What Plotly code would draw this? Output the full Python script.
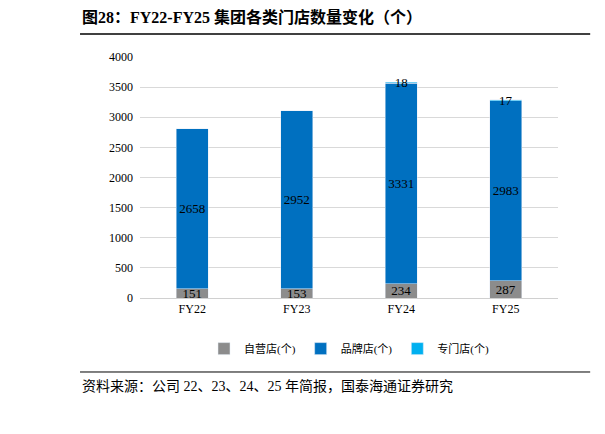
import plotly.graph_objects as go

years = ['FY22', 'FY23', 'FY24', 'FY25']
self_run = [151, 153, 234, 287]
brand = [2658, 2952, 3331, 2983]
special = [None, None, 18, 17]

font_cn = 'Liberation Serif, Noto Sans CJK SC'

fig = go.Figure()
fig.add_bar(x=years, y=self_run, name='自营店(个)', marker_color='#8c8c8c',
            text=self_run, textposition='inside', insidetextanchor='middle')
fig.add_bar(x=years, y=brand, name='品牌店(个)', marker_color='#0070c0',
            text=brand, textposition='inside', insidetextanchor='middle')
fig.add_bar(x=years, y=special, name='专门店(个)', marker_color='#00b0f0',
            text=special, textposition='inside', insidetextanchor='middle')
fig.update_traces(width=0.31, constraintext='none', textangle=0,
                  textfont=dict(color='black', size=13, family=font_cn))

fig.update_layout(
    barmode='stack', width=605, height=434,
    margin=dict(l=132, r=55, t=49, b=144),
    plot_bgcolor='white', paper_bgcolor='white',
    font=dict(family=font_cn, size=12, color='black'),
    xaxis=dict(showline=True, linecolor='#d0d0d0', ticks=''),
    yaxis=dict(range=[0, 4000], dtick=500, gridcolor='#d9d9d9', zeroline=False,
               ticks='', ticklabelstandoff=6),
    legend=dict(orientation='h', x=0.5, xanchor='center', y=-0.21, yanchor='middle',
                font=dict(size=11), traceorder='normal'),
    showlegend=True,
)
fig.add_annotation(text='<b>图28：FY22-FY25 集团各类门店数量变化（个）</b>', xref='paper', yref='paper',
                   x=-0.1435, y=1.165, xanchor='left', yanchor='middle', showarrow=False,
                   font=dict(size=16, family=font_cn))
fig.add_shape(type='line', xref='paper', yref='paper', x0=-0.1435, x1=1.077, y0=1.095, y1=1.095,
              line=dict(color='black', width=1.5))
fig.add_shape(type='line', xref='paper', yref='paper', x0=-0.1435, x1=1.077, y0=-0.307, y1=-0.307,
              line=dict(color='black', width=1))
fig.add_annotation(text='资料来源：公司 22、23、24、25 年简报，国泰海通证券研究', xref='paper', yref='paper',
                   x=-0.1435, y=-0.365, xanchor='left', yanchor='middle', showarrow=False,
                   font=dict(size=14, family=font_cn))
fig.write_html('out.html')
